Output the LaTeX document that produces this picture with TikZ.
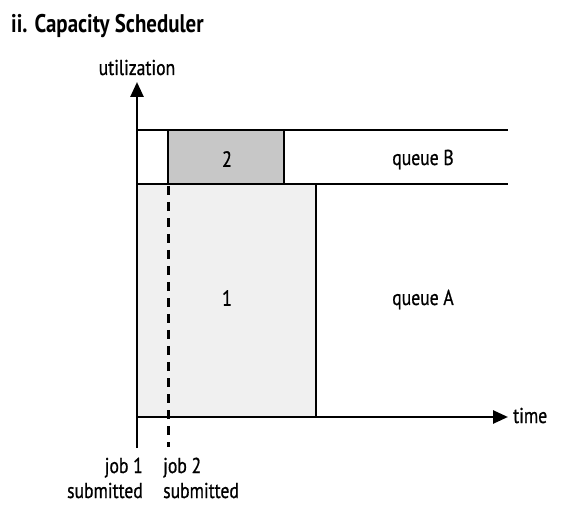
\documentclass[tikz,border=0pt]{standalone}
\usepackage{fontspec}
\setmainfont{PT Sans}[FakeStretch=0.82]
\newfontfamily\lblfont{PT Sans}[FakeStretch=0.82,FakeBold=0.8]
\usetikzlibrary{arrows.meta}
\begin{document}
\begin{tikzpicture}[x=1pt,y=-1pt,
  axis/.style={line width=2.6pt,-{Triangle[length=15pt,width=13pt]}},
  frame/.style={line width=2.6pt},
  lbl/.style={font=\lblfont\fontsize{21.5}{22}\selectfont,inner sep=0pt},
  num/.style={font=\lblfont\fontsize{22}{22}\selectfont,inner sep=0pt},
  jobbox/.style={line width=2.6pt,draw=black}]
\useasboundingbox (0,0) rectangle (562,510);
% boxes
\fill[fill=black!6] (137,184) rectangle (316,417);
\fill[fill=black!22] (168,130) rectangle (284,184);
\coordinate (o) at (137,417);
\coordinate (ybot) at (137,448);
\coordinate (ytop) at (137,82);
\coordinate (xend) at (508,417);
% queue lines
\coordinate (tl) at (137,130);
\coordinate (tr) at (508,130);
\coordinate (ml) at (137,184);
\coordinate (mr) at (508,184);
\draw[frame] (tl) -- (tr);
\draw[frame] (ml) -- (mr);
% job 2 box
\draw[jobbox] (168,184) |- (284,130) -- (284,184);
% job 1 box right edge
\draw[frame] (316,184) -- (316,417);
% dashed line
\coordinate (dtop) at (168,186);
\coordinate (dbot) at (168,447);
\draw[line width=3pt,dash pattern=on 9pt off 7pt] (dtop) -- (dbot);
% axes
\draw[axis] (ybot) -- (ytop);
\draw[axis] (o) -- (xend);
% texts
\node[anchor=base west,inner sep=0pt,font=\fontsize{25.5}{26}\selectfont\bfseries] (title) at (11,33) {ii. Capacity Scheduler};
\node[lbl,anchor=base] (util) at (137,75) {utilization};
\node[lbl,anchor=base west] (time) at (513,423) {time};
\node[lbl,anchor=base] (qb) at (423,165) {queue B};
\node[lbl,anchor=base] (qa) at (423,305) {queue A};
\node[num] (n2) at (227,159) {2};
\node[num] (n1) at (227,298) {1};
\node[lbl,anchor=base east] (j1) at (143,473) {job 1};
\node[lbl,anchor=base east] (s1) at (143,498) {submitted};
\node[lbl,anchor=base west] (j2) at (163,473) {job 2};
\node[lbl,anchor=base west] (s2) at (163,498) {submitted};
\end{tikzpicture}
\end{document}
